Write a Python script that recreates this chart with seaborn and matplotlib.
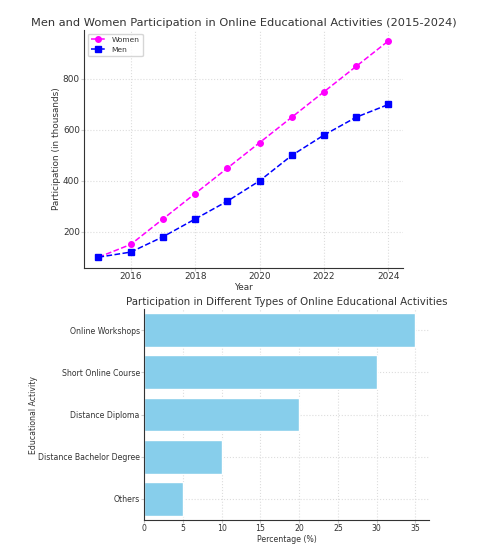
import seaborn as sns
import matplotlib.pyplot as plt
import pandas as pd

years = [2015, 2016, 2017, 2018, 2019, 2020, 2021, 2022, 2023, 2024]
women = [100, 150, 250, 350, 450, 550, 650, 750, 850, 950]
men = [100, 120, 180, 250, 320, 400, 500, 580, 650, 700]

activities = ['Online Workshops', 'Short Online Course', 'Distance Diploma',
              'Distance Bachelor Degree', 'Others']
percentages = [35, 30, 20, 10, 5]

sns.set_style('ticks', {'grid.linestyle': ':', 'grid.color': '#dddddd'})
plt.rcParams['font.family'] = ['DejaVu Sans']
plt.rcParams['axes.edgecolor'] = '#333333'
plt.rcParams['text.color'] = '#333333'
plt.rcParams['axes.labelcolor'] = '#333333'
plt.rcParams['xtick.color'] = '#333333'
plt.rcParams['ytick.color'] = '#333333'

W, H = 485, 557
fig = plt.figure(figsize=(W / 100, H / 100), dpi=100)
ax1 = fig.add_axes([84 / W, 1 - 268 / H, (403 - 84) / W, (268 - 30) / H])
ax2 = fig.add_axes([144 / W, 1 - 520 / H, (429 - 144) / W, (520 - 309) / H])

line_df = pd.DataFrame({'Year': years, 'Women': women, 'Men': men})
ax1.plot(line_df['Year'], line_df['Women'], linestyle='--', marker='o', color='magenta',
         markersize=4, linewidth=1.1, label='Women')
ax1.plot(line_df['Year'], line_df['Men'], linestyle='--', marker='s', color='blue',
         markersize=4, linewidth=1.1, label='Men')
ax1.set_title('Men and Women Participation in Online Educational Activities (2015-2024)',
              fontsize=8.2, pad=3)
ax1.set_xlabel('Year', fontsize=6.4, labelpad=1)
ax1.set_ylabel('Participation (in thousands)', fontsize=6.4, labelpad=1.5)
ax1.set_xticks([2016, 2018, 2020, 2022, 2024])
ax1.tick_params(labelsize=6.4, length=2, pad=1, color='#cccccc')
ax1.grid(True)
ax1.legend(loc='upper left', fontsize=5.4, frameon=True)
sns.despine(ax=ax1)

bar_df = pd.DataFrame({'Activity': activities, 'Percentage': percentages})
sns.barplot(data=bar_df, x='Percentage', y='Activity', color='skyblue', saturation=1,
            width=0.8, ax=ax2)
ax2.set_title('Participation in Different Types of Online Educational Activities',
              fontsize=7.4, pad=3)
ax2.set_xlabel('Percentage (%)', fontsize=5.6, labelpad=1)
ax2.set_ylabel('Educational Activity', fontsize=5.6, labelpad=0)
ax2.tick_params(labelsize=5.6, length=2, pad=1, color='#cccccc')
ax2.set_xlim(0, 36.75)
ax2.grid(True)
ax2.set_axisbelow(True)
sns.despine(ax=ax2)

fig.savefig('out.png', dpi=100)
